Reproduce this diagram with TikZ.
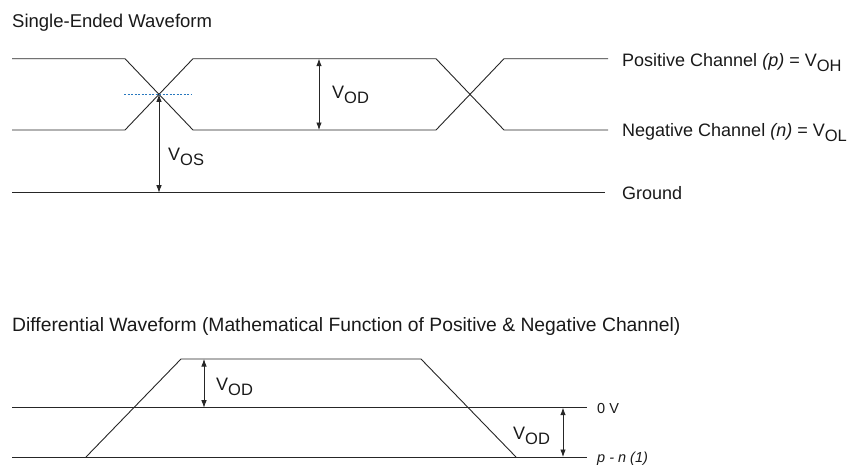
\documentclass[tikz,border=0pt]{standalone}
\usepackage{fontspec}
\setmainfont{Liberation Sans}
\usetikzlibrary{arrows.meta}
\newcommand{\Vsub}[1]{V\raisebox{-5pt}{\fontsize{16.5}{18}\selectfont #1}}
\begin{document}
\begin{tikzpicture}[x=1pt,y=-1pt,
  wave/.style={line width=0.9pt, draw=black!85, line join=miter},
  lbl/.style={anchor=base west, inner sep=0pt, text=black!90, font=\fontsize{18}{20}\selectfont},
  ttl/.style={lbl, font=\fontsize{18.5}{20}\selectfont},
  dim/.style={line width=0.8pt, draw=black!85, {Latex[length=7.5pt,width=5.5pt]}-{Latex[length=7.5pt,width=5.5pt]}},
  guide/.style={line width=0.9pt, draw={rgb,255:red,40;green,120;blue,190}, dash pattern=on 2pt off 1.5pt}]
\useasboundingbox (0,0) rectangle (852,464);
% titles
\node[ttl] (t1) at (12,27) {Single-Ended Waveform};
\node[ttl, font=\fontsize{19.3}{21}\selectfont] (t2) at (12,331) {Differential Waveform (Mathematical Function of Positive \& Negative Channel)};
% single-ended waveform
\coordinate (a0) at (12,58.7);
\coordinate (b0) at (12,130);
\draw[wave] (a0) -- (125,58.7) -- (193,130) -- (436,130) -- (504,58.7) -- (608,58.7);
\draw[wave] (b0) -- (125,130) -- (193,58.7) -- (436,58.7) -- (504,130) -- (608,130);
\coordinate (g0) at (12,192.7);
\coordinate (g1) at (605,192.7);
\draw[wave] (g0) -- (g1);
\coordinate (d0) at (124,94.4);
\coordinate (d1) at (192,94.4);
\draw[guide] (d0) -- (d1);
\coordinate (x1) at (159,94.4);
\coordinate (x1g) at (159,192.7);
\draw[dim] (x1) -- (x1g);
\coordinate (od1) at (319,58.7);
\coordinate (od2) at (319,130);
\draw[dim] (od1) -- (od2);
\node[lbl] (vod1) at (332,98) {\Vsub{OD}};
\node[lbl] (vos) at (168,160) {\Vsub{OS}};
\node[lbl] (pos) at (622,66) {Positive Channel \textit{(p)} = \Vsub{OH}};
\node[lbl] (neg) at (622,136.5) {Negative Channel \textit{(n)} = \Vsub{OL}};
\node[lbl] (gnd) at (622,199) {Ground};
% differential waveform
\coordinate (z0) at (12,407.7);
\coordinate (z1) at (587,407.7);
\coordinate (m0) at (12,457);
\coordinate (m1) at (587,457);
\draw[wave] (z0) -- (z1);
\draw[wave] (m0) -- (m1);
\draw[wave] (86,457) -- (181,359) -- (421,359) -- (516,457);
\coordinate (e1) at (204,359);
\coordinate (e2) at (204,407.7);
\draw[dim] (e1) -- (e2);
\coordinate (f1) at (563,407.7);
\coordinate (f2) at (563,457);
\draw[dim] (f1) -- (f2);
\node[lbl] (vod2) at (216,390) {\Vsub{OD}};
\node[lbl] (vod3) at (513,439) {\Vsub{OD}};
\node[lbl, font=\fontsize{14.5}{16}\selectfont] (zero) at (597,413) {0 V};
\node[lbl, font=\fontsize{14.5}{16}\itshape] (pn) at (597,462) {p - n (1)};
\end{tikzpicture}
\end{document}
